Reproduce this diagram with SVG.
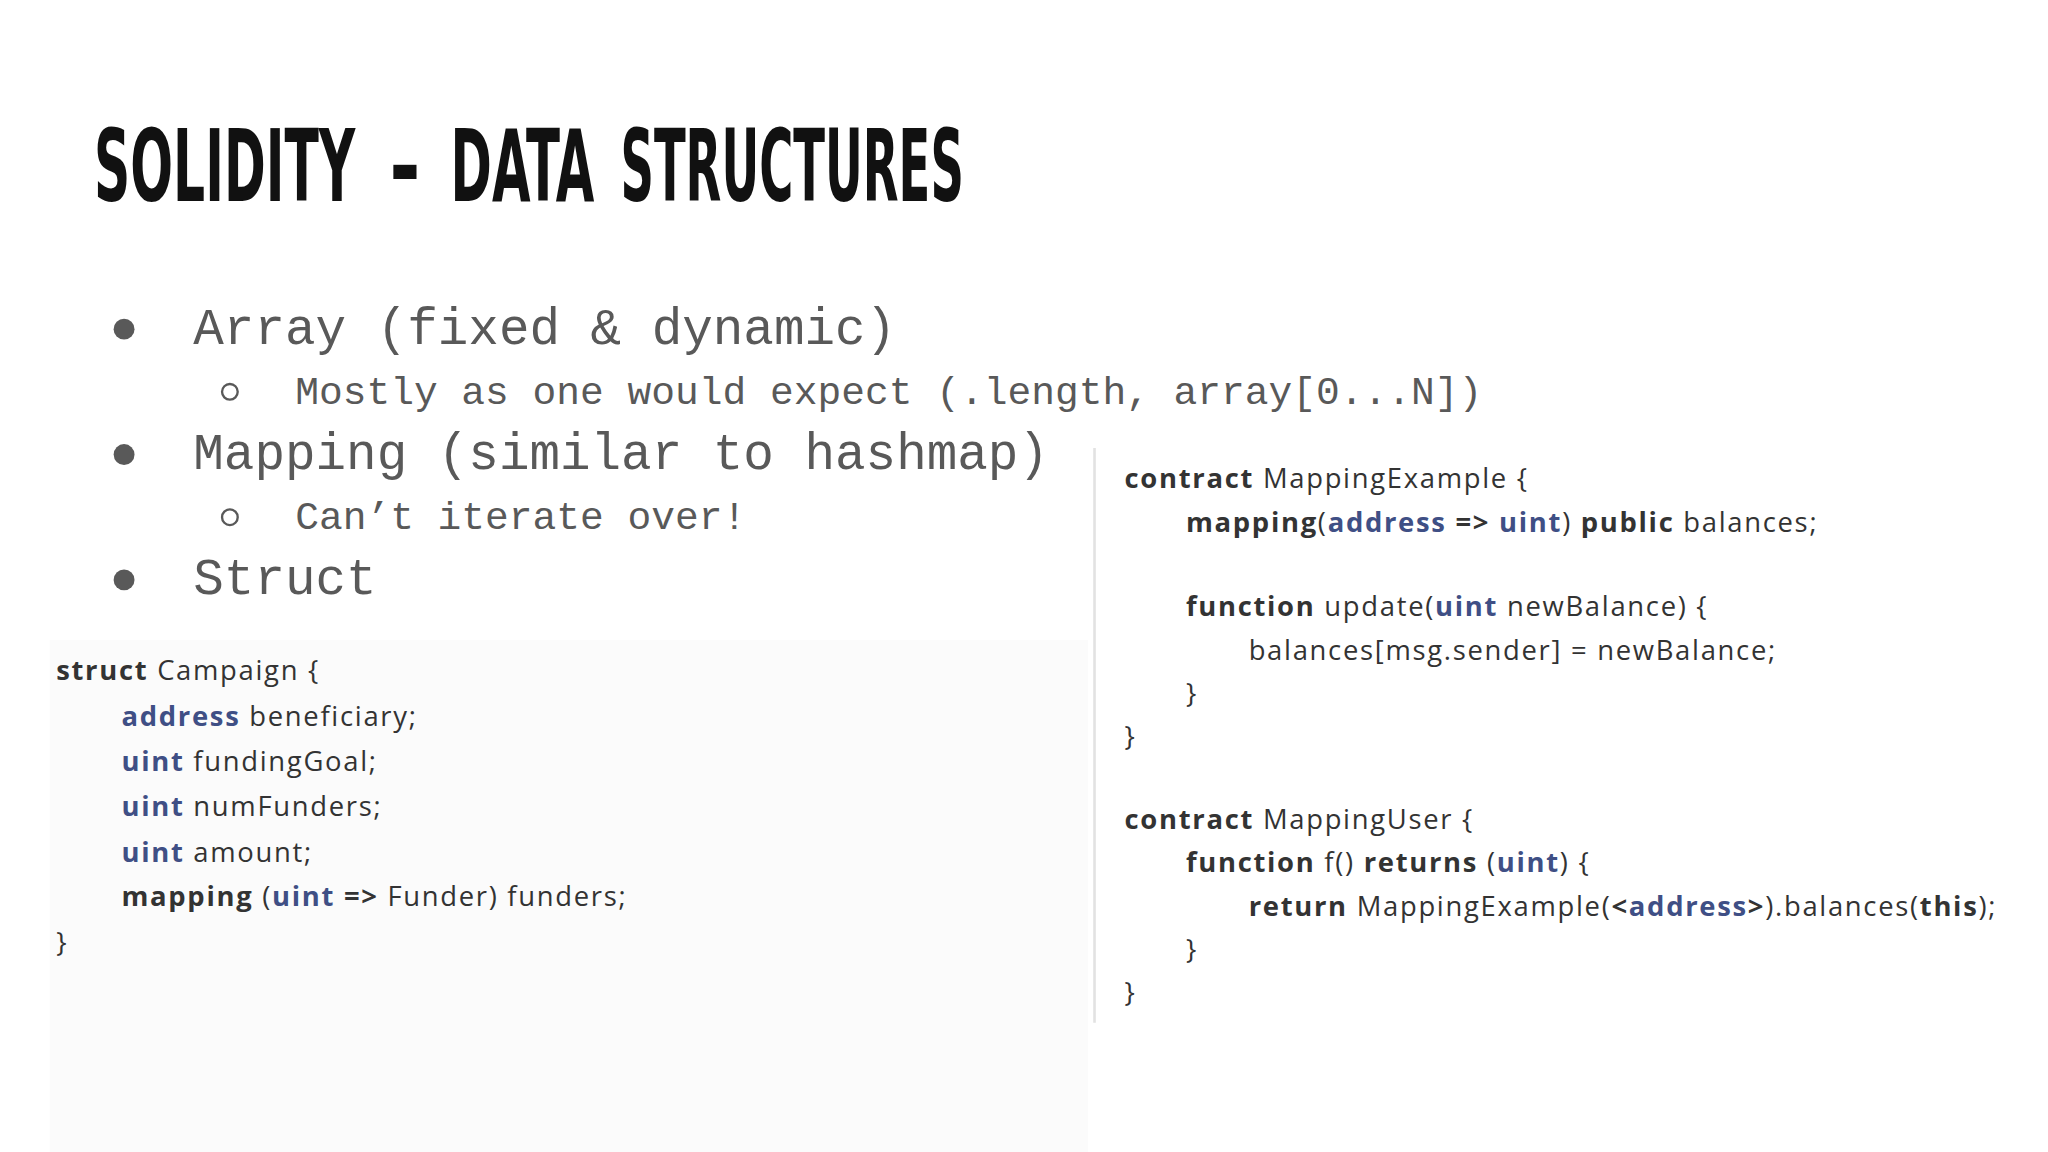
<svg xmlns="http://www.w3.org/2000/svg" width="2048" height="1152" viewBox="0 0 2048 1152">
<style>
.t{font-family:"DejaVu Sans Condensed","DejaVu Sans",sans-serif;font-weight:bold;fill:#111;font-size:76px}
.b1{font-family:"Liberation Mono",monospace;font-size:39px;fill:#595959}
.b2{font-family:"Liberation Mono",monospace;font-size:30.3px;fill:#595959}
.c{font-family:"Open Sans","Noto Sans",sans-serif;font-size:21px;fill:#333;letter-spacing:1.3px}
.k{font-weight:bold;fill:#333}
.ty{font-weight:bold;fill:#3f4f85}
</style>
<rect width="2048" height="1152" fill="#fff"/>
<g transform="scale(1.3061)">
<rect x="38" y="490" width="795" height="392" fill="#fbfbfb"/>
<line x1="838" y1="343" x2="838" y2="783" stroke="#e2e2e2" stroke-width="2"/>
<g id="title">
<text class="t" x="72" y="154" textLength="200" lengthAdjust="spacingAndGlyphs">SOLIDITY</text>
<text class="t" x="298" y="154" textLength="24" lengthAdjust="spacingAndGlyphs">-</text>
<text class="t" x="345" y="154" textLength="110" lengthAdjust="spacingAndGlyphs">DATA</text>
<text class="t" x="475" y="154" textLength="263" lengthAdjust="spacingAndGlyphs">STRUCTURES</text>
</g>
<g id="bullets">
<circle cx="95" cy="252" r="8" fill="#595959"/><text class="b1" x="148" y="263">Array (fixed &amp; dynamic)</text>
<circle cx="176" cy="300" r="6" fill="none" stroke="#595959" stroke-width="1.8"/><text class="b2" x="226" y="309">Mostly as one would expect (.length, array[0...N])</text>
<circle cx="95" cy="348" r="8" fill="#595959"/><text class="b1" x="148" y="359">Mapping (similar to hashmap)</text>
<circle cx="176" cy="396" r="6" fill="none" stroke="#595959" stroke-width="1.8"/><text class="b2" x="226" y="405">Can’t iterate over!</text>
<circle cx="95" cy="444" r="8" fill="#595959"/><text class="b1" x="148" y="455">Struct</text>
</g>
<g id="struct-code" class="c">
<text x="43" y="521"><tspan class="k">struct</tspan> Campaign {</text>
<text x="93" y="556"><tspan class="ty">address</tspan> beneficiary;</text>
<text x="93" y="590"><tspan class="ty">uint</tspan> fundingGoal;</text>
<text x="93" y="625"><tspan class="ty">uint</tspan> numFunders;</text>
<text x="93" y="660"><tspan class="ty">uint</tspan> amount;</text>
<text x="93" y="694"><tspan class="k">mapping</tspan> (<tspan class="ty">uint</tspan> <tspan class="k">=&gt;</tspan> Funder) funders;</text>
<text x="43" y="729">}</text>
</g>
<g id="mapping-code" class="c">
<text x="861" y="374"><tspan class="k">contract</tspan> MappingExample {</text>
<text x="908" y="407"><tspan class="k">mapping</tspan>(<tspan class="ty">address</tspan> <tspan class="k">=&gt;</tspan> <tspan class="ty">uint</tspan>) <tspan class="k">public</tspan> balances;</text>
<text x="908" y="472"><tspan class="k">function</tspan> update(<tspan class="ty">uint</tspan> newBalance) {</text>
<text x="956" y="505">balances[msg.sender] = newBalance;</text>
<text x="908" y="538">}</text>
<text x="861" y="571">}</text>
<text x="861" y="635"><tspan class="k">contract</tspan> MappingUser {</text>
<text x="908" y="668"><tspan class="k">function</tspan> f() <tspan class="k">returns</tspan> (<tspan class="ty">uint</tspan>) {</text>
<text x="956" y="701"><tspan class="k">return</tspan> MappingExample(<tspan class="k">&lt;</tspan><tspan class="ty">address</tspan><tspan class="k">&gt;</tspan>).balances(<tspan class="k">this</tspan>);</text>
<text x="908" y="734">}</text>
<text x="861" y="767">}</text>
</g>
</g>
</svg>
